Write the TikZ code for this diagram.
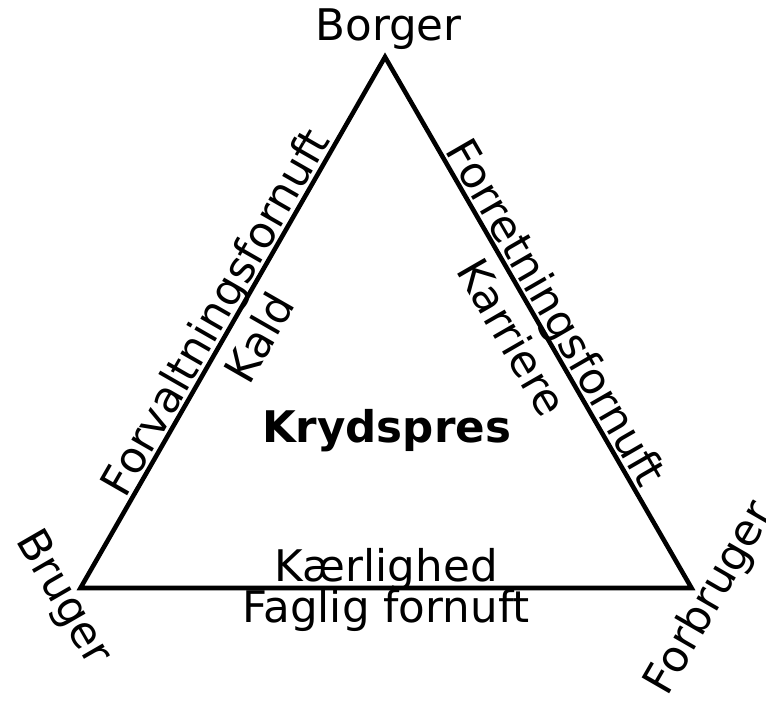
\documentclass[tikz,border=0pt]{standalone}
\usepackage{fontspec}
\setmainfont{DejaVu Sans}
\tikzset{
  edge/.style={line width=1.3pt, line join=miter},
  outlabel/.style={sloped, anchor=base, inner sep=0pt, yshift=1.5pt},
  inlabel/.style={sloped, anchor=north, inner sep=0pt, yshift=-3pt},
  cornerlabel/.style={anchor=north, inner sep=0pt},
}
\begin{document}
\begin{tikzpicture}[font=\fontsize{12.4}{14}\selectfont]
    \useasboundingbox (0,0) rectangle (7.66,7.05);
    % corners
    \coordinate (borger) at (3.85,6.48);
    \coordinate (bruger) at (0.805,1.17);
    \coordinate (forbruger) at (6.915,1.17);
    % triangle with edge labels
    \draw[edge] (bruger)
        -- node[outlabel] (forvaltning) {Forvaltningsfornuft}
           node[inlabel] (kald) {Kald} (borger)
        -- node[outlabel] (forretning) {Forretningsfornuft}
           node[inlabel] (karriere) {Karriere} (forbruger)
        -- node[anchor=base, yshift=0.065cm, inner sep=0pt] (kaerlighed) {Kærlighed}
           node[anchor=base, yshift=-0.34cm, inner sep=0pt] (faglig) {Faglig fornuft} cycle;
    % corner labels
    \node[anchor=south, inner sep=0pt, xshift=0.035cm, yshift=0.07cm] (borgerlabel) at (borger) {Borger};
    \node[cornerlabel, rotate=-60] (brugerlabel) at (bruger) {Bruger};
    \node[cornerlabel, rotate=60] (forbrugerlabel) at (forbruger) {Forbruger};
    % centre
    \node[font=\fontsize{12.4}{14}\selectfont\bfseries, anchor=base] (kryds) at (3.865,2.62) {Krydspres};
\end{tikzpicture}
\end{document}
